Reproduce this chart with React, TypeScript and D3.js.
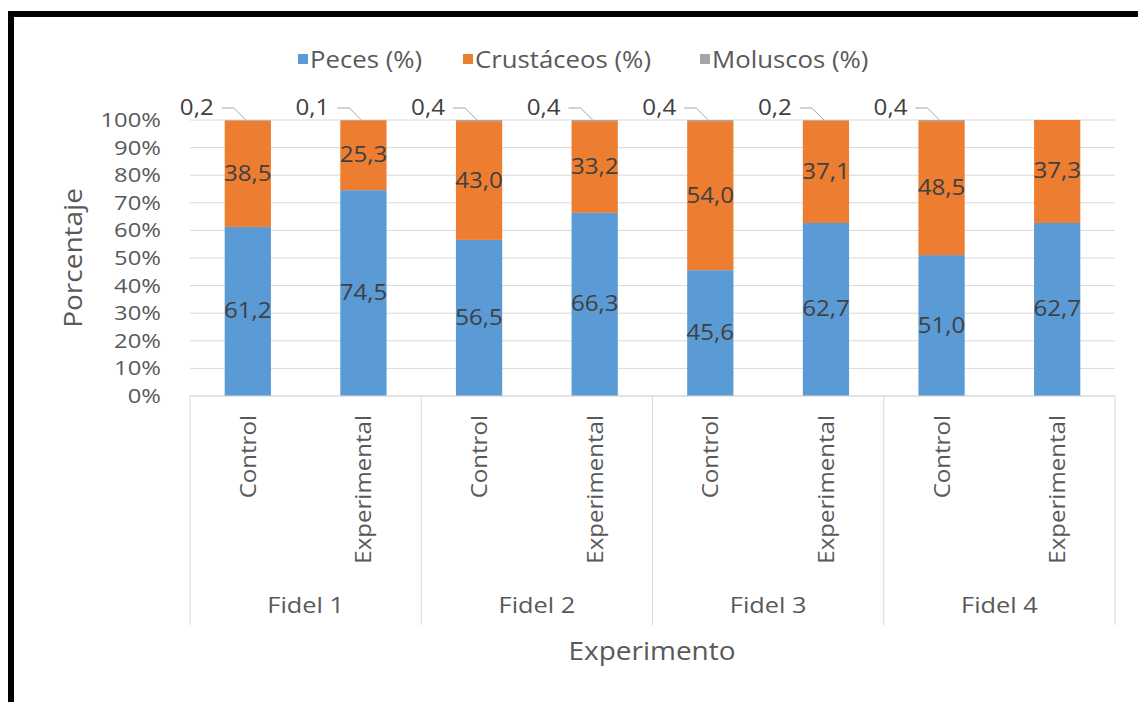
import React from "react";
import * as d3 from "d3";

const groups = ["Fidel 1", "Fidel 2", "Fidel 3", "Fidel 4"];
const treatments = ["Control", "Experimental"];
const seriesNames = ["Peces (%)", "Crustáceos (%)", "Moluscos (%)"];
const peces = [61.2, 74.5, 56.5, 66.3, 45.6, 62.7, 51.0, 62.7];
const crustaceos = [38.5, 25.3, 43.0, 33.2, 54.0, 37.1, 48.5, 37.3];
const moluscos = [0.2, 0.1, 0.4, 0.4, 0.4, 0.2, 0.4, 0];
const yTicks = [0, 10, 20, 30, 40, 50, 60, 70, 80, 90, 100];
const colors = ["#5B9BD5", "#ED7D31", "#A5A5A5"];

const W = 1138;
const H = 702;
const FONT = "'Open Sans', sans-serif";
const TXT = "#595959";

export default function App() {
  const left = 190, right = 1115, top = 120, bottom = 396;
  const rows = peces.map((p, i) => ({
    key: i,
    group: groups[Math.floor(i / 2)],
    treat: treatments[i % 2],
    s0: p,
    s1: crustaceos[i],
    s2: moluscos[i],
  }));
  const stacked = d3.stack<any>().keys(["s0", "s1", "s2"]).offset(d3.stackOffsetExpand)(rows);
  const xGroup = d3.scaleBand<string>().domain(groups).range([left, right]).paddingInner(0).paddingOuter(0);
  const xInner = d3.scaleBand<string>().domain(treatments).range([0, xGroup.bandwidth()]).paddingInner(0.6).paddingOuter(0.3);
  const y = d3.scaleLinear().domain([0, 1]).range([bottom, top]);
  const barX = (i: number) => xGroup(groups[Math.floor(i / 2)])! + xInner(treatments[i % 2])!;
  const bw = xInner.bandwidth();
  const fmt = (v: number) => v.toFixed(1).replace(".", ",");

  const legendItems = [
    { x: 298, label: seriesNames[0], c: colors[0] },
    { x: 463, label: seriesNames[1], c: colors[1] },
    { x: 700, label: seriesNames[2], c: colors[2] },
  ];

  return (
    <svg width={W} height={H} style={{ position: "absolute", left: 0, top: 0, background: "#fff" }} fontFamily={FONT}>
      <rect x={0} y={0} width={W} height={H} fill="#fff" />
      {/* frame */}
      <rect x={8} y={11} width={W - 8} height={6} fill="#000" />
      <rect x={8} y={11} width={6} height={H - 11} fill="#000" />

      {/* legend */}
      {legendItems.map((l) => (
        <g key={l.label}>
          <rect x={l.x} y={54} width={10} height={10} fill={l.c} />
          <text transform={`translate(${l.x + 12},68) scale(1.12,1)`} fontSize={23} fill={TXT}>{l.label}</text>
        </g>
      ))}

      {/* gridlines */}
      {yTicks.map((t) => (
        <line key={t} x1={left} x2={right} y1={y(t / 100)} y2={y(t / 100)} stroke="#D9D9D9" strokeWidth={1} />
      ))}
      {yTicks.map((t) => (
        <text key={"l" + t} transform={`translate(161,${y(t / 100) + 7}) scale(1.22,1)`} textAnchor="end" fontSize={19.5} fill={TXT}>{t}%</text>
      ))}

      {/* bars */}
      {stacked.map((s, si) =>
        s.map((d, i) => (
          <rect key={si + "-" + i} x={barX(i)} y={y(d[1])} width={bw} height={Math.max(0, y(d[0]) - y(d[1]))} fill={colors[si]} />
        ))
      )}

      {/* data labels peces / crustaceos */}
      {[0, 1].map((si) =>
        stacked[si].map((d, i) => (
          <text key={"dl" + si + i} transform={`translate(${barX(i) + bw / 2},${(y(d[0]) + y(d[1])) / 2 + 7}) scale(1.15,1)`} textAnchor="middle" fontSize={21} fill="#404040">
            {fmt(si === 0 ? peces[i] : crustaceos[i])}
          </text>
        ))
      )}

      {/* moluscos labels with leader lines */}
      {stacked[2].map((d, i) =>
        moluscos[i] > 0 ? (
          <g key={"ml" + i}>
            <text transform={`translate(${barX(i) - 11},${y(d[1]) - 5}) scale(1.15,1)`} textAnchor="end" fontSize={21} fill="#404040">{fmt(moluscos[i])}</text>
            <polyline
              points={`${barX(i) - 3},${y(d[1]) - 12} ${barX(i) + 9},${y(d[1]) - 12} ${barX(i) + bw / 2 - 2},${y(d[1])}`}
              fill="none" stroke="#A6A6A6" strokeWidth={1}
            />
          </g>
        ) : null
      )}

      {/* category axis */}
      <line x1={left} x2={right} y1={bottom} y2={bottom} stroke="#D9D9D9" />
      {groups.map((g) => (
        <line key={"sep" + g} x1={xGroup(g)!} x2={xGroup(g)!} y1={bottom} y2={625} stroke="#D9D9D9" />
      ))}
      <line x1={right} x2={right} y1={bottom} y2={625} stroke="#D9D9D9" />
      {rows.map((r, i) => (
        <text key={"cat" + i} transform={`translate(${barX(i) + bw / 2 + 8},${415}) rotate(-90) scale(1.12,1)`} textAnchor="end" fontSize={21.5} fill={TXT}>
          {r.treat}
        </text>
      ))}
      {groups.map((g) => (
        <text key={"g" + g} transform={`translate(${xGroup(g)! + xGroup.bandwidth() / 2},613) scale(1.15,1)`} textAnchor="middle" fontSize={22} fill={TXT}>{g}</text>
      ))}

      {/* axis titles */}
      <text transform={`translate(652,660) scale(1.12,1)`} textAnchor="middle" fontSize={25} fill={TXT}>Experimento</text>
      <text transform={`translate(82,258) rotate(-90) scale(1.12,1)`} textAnchor="middle" fontSize={25} fill={TXT}>Porcentaje</text>
    </svg>
  );
}
